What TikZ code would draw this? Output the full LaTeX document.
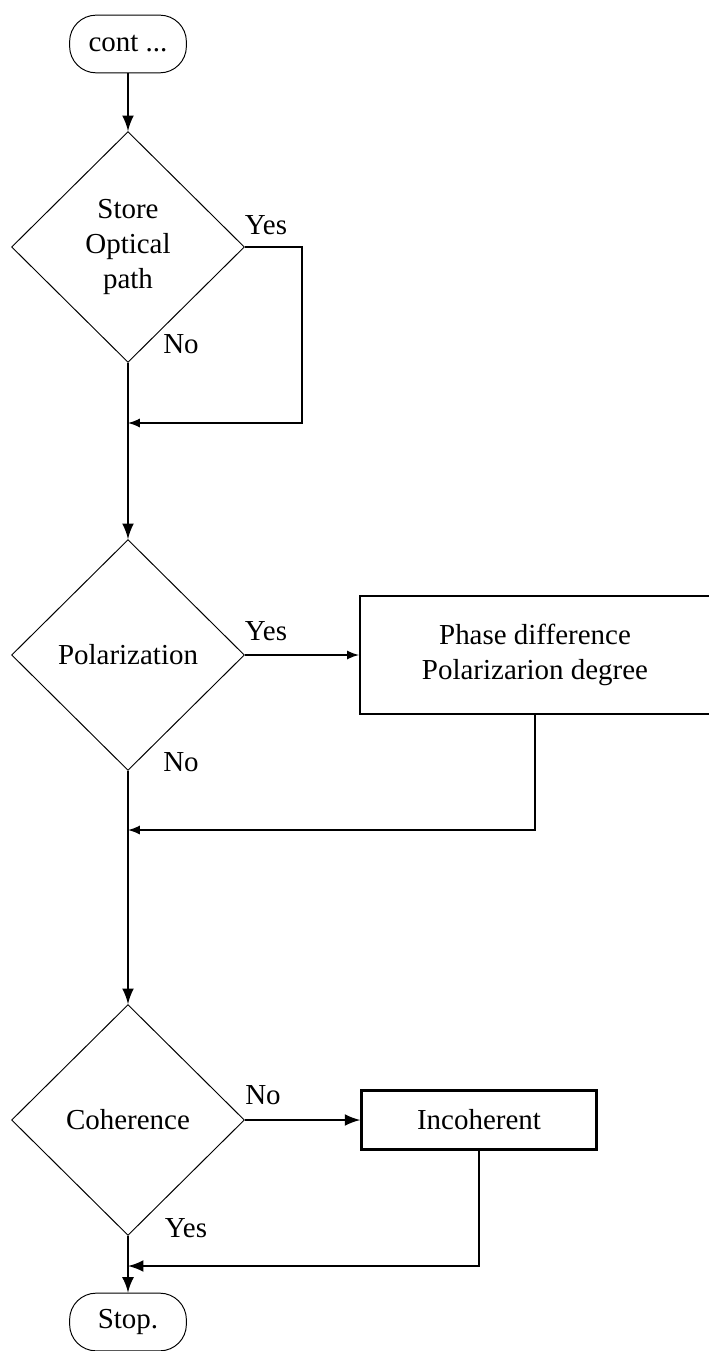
\documentclass[12pt,tikz,border=0pt]{standalone}
\usepackage{fontspec}
\setmainfont{Liberation Serif}
\usetikzlibrary{shapes,arrows,positioning}

\tikzset{
  decision/.style={diamond, draw, line width=0.4pt, inner sep=0pt, minimum width=3.39cm, minimum height=3.36cm, align=center},
  terminal/.style={rectangle, draw, rounded corners=11pt, line width=0.4pt, minimum width=1.70cm, minimum height=0.84cm},
  process/.style={rectangle, draw, line width=1pt, align=center},
  flow/.style={line width=1.2pt, ->, >=latex},
  branch/.style={line width=0.7pt, ->, >=latex},
}

\begin{document}
\begin{tikzpicture}[x=0.01455cm, y=-0.01455cm]
\useasboundingbox (0,0) rectangle (708,1351);

% Start and optical path check
\node[terminal] (cont) at (128,44) {cont ...};
\node[decision] (store) at (128,247) {Store\\Optical\\path};
\node (storeyes) at (266,225) {Yes};
\node (storeno) at (181,344) {No};
\coordinate (merge1) at (128,423);
\draw[flow] (cont) -- (store);
\draw[branch] (store.east) -- ++(57,0) |- (merge1);

% Polarization check
\node[decision] (pol) at (128,655) {Polarization};
\node (polyes) at (266,631) {Yes};
\node (polno) at (181,762) {No};
\node[process, minimum width=5.09cm, minimum height=1.72cm] (phase) at (535,655) {Phase difference\\Polarizarion degree};
\coordinate (merge2) at (128,830);
\draw[flow] (store) -- (pol);
\draw[branch] (pol.east) -- (phase.west);
\draw[branch] (phase.south) |- (merge2);

% Coherence check
\node[decision] (coh) at (128,1120) {Coherence};
\node (cohno) at (263,1095) {No};
\node (cohyes) at (186,1228) {Yes};
\node[process, minimum width=3.42cm, minimum height=0.86cm] (incoh) at (479,1120) {Incoherent};
\node[terminal] (stop) at (128,1322) {Stop.};
\coordinate (merge3) at (128,1266);
\draw[flow] (pol) -- (coh);
\draw[flow] (coh.east) -- (incoh.west);
\draw[flow] (incoh.south) |- (merge3);
\draw[flow] (coh) -- (stop);
\end{tikzpicture}
\end{document}
